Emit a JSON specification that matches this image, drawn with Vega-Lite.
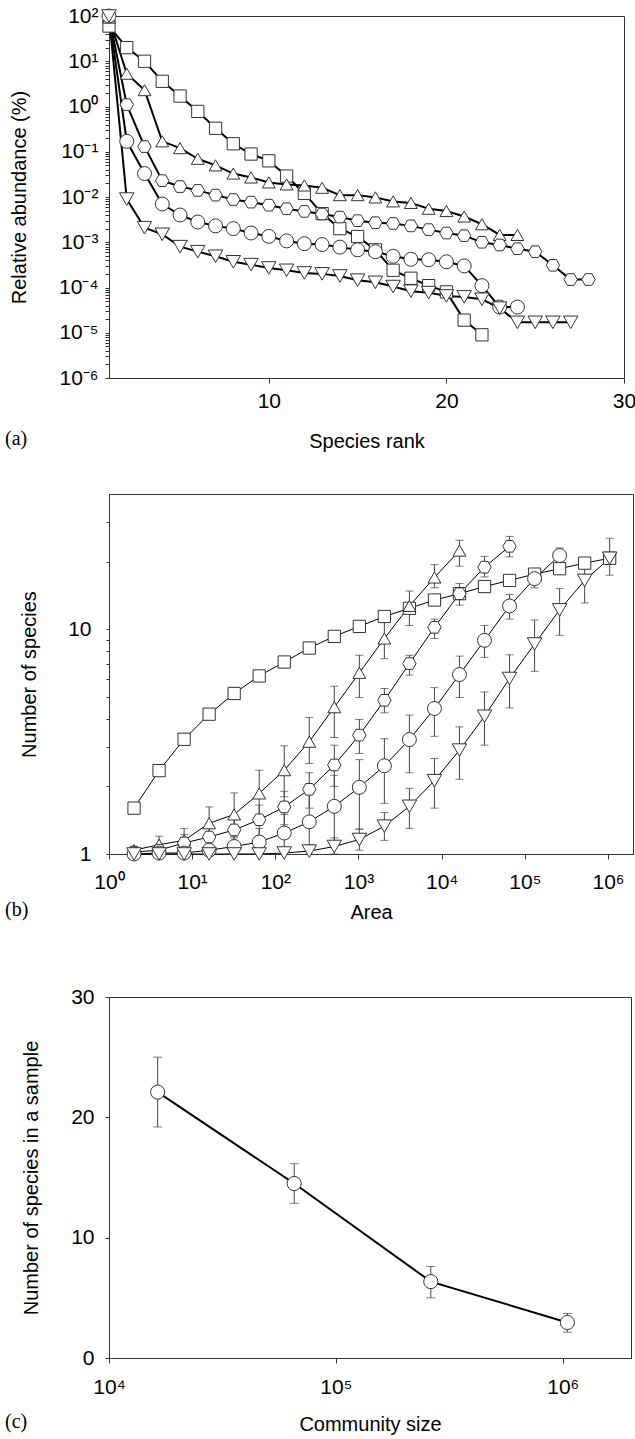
{
  "$schema": "https://vega.github.io/schema/vega-lite/v6.json",
  "padding": {"top": 4, "left": 4, "right": 3, "bottom": 5},
  "background": "white",
  "config": {
    "font": "Liberation Sans",
    "view": {"stroke": "#333", "strokeWidth": 1},
    "axis": {
      "grid": false,
      "labelFont": "Liberation Sans",
      "labelFontSize": 21,
      "labelColor": "#000",
      "titleFont": "Liberation Sans",
      "titleFontSize": 20,
      "titleFontWeight": "normal",
      "titleColor": "#000",
      "domainColor": "#333",
      "tickColor": "#333",
      "labelOverlap": false,
      "labelBound": false,
      "labelFlush": false
    },
    "title": {"font": "Liberation Serif", "fontSize": 20, "fontWeight": "normal", "color": "#000"}
  },
  "spacing": 41,
  "vconcat": [
    {
      "width": 515,
      "height": 362,
      "title": {"text": "(a)", "orient": "bottom", "anchor": "start", "frame": "group", "dx": -104, "offset": -22, "baseline": "top"},
      "data": {"values": [
        {"s":"square","rank":1,"v":60},{"s":"square","rank":2,"v":20},{"s":"square","rank":3,"v":10},{"s":"square","rank":4,"v":3.6},{"s":"square","rank":5,"v":1.7},{"s":"square","rank":6,"v":0.78},{"s":"square","rank":7,"v":0.33},{"s":"square","rank":8,"v":0.15},{"s":"square","rank":9,"v":0.089},{"s":"square","rank":10,"v":0.063},{"s":"square","rank":11,"v":0.029},{"s":"square","rank":12,"v":0.012},{"s":"square","rank":13,"v":0.0043},{"s":"square","rank":14,"v":0.002},{"s":"square","rank":15,"v":0.00134},{"s":"square","rank":16,"v":0.00068},{"s":"square","rank":17,"v":0.00024},{"s":"square","rank":18,"v":0.00016},{"s":"square","rank":19,"v":0.00011},{"s":"square","rank":20,"v":0.00008},{"s":"square","rank":21,"v":0.000019},{"s":"square","rank":22,"v":0.000009},
        {"s":"tri_up","rank":1,"v":92},{"s":"tri_up","rank":2,"v":5.3},{"s":"tri_up","rank":3,"v":2.3},{"s":"tri_up","rank":4,"v":0.17},{"s":"tri_up","rank":5,"v":0.12},{"s":"tri_up","rank":6,"v":0.07},{"s":"tri_up","rank":7,"v":0.05},{"s":"tri_up","rank":8,"v":0.033},{"s":"tri_up","rank":9,"v":0.027},{"s":"tri_up","rank":10,"v":0.021},{"s":"tri_up","rank":11,"v":0.019},{"s":"tri_up","rank":12,"v":0.018},{"s":"tri_up","rank":13,"v":0.016},{"s":"tri_up","rank":14,"v":0.011},{"s":"tri_up","rank":15,"v":0.011},{"s":"tri_up","rank":16,"v":0.0098},{"s":"tri_up","rank":17,"v":0.008},{"s":"tri_up","rank":18,"v":0.0074},{"s":"tri_up","rank":19,"v":0.0055},{"s":"tri_up","rank":20,"v":0.0049},{"s":"tri_up","rank":21,"v":0.0037},{"s":"tri_up","rank":22,"v":0.0025},{"s":"tri_up","rank":23,"v":0.00145},{"s":"tri_up","rank":24,"v":0.00145},
        {"s":"hexagon","rank":1,"v":99},{"s":"hexagon","rank":2,"v":1.1},{"s":"hexagon","rank":3,"v":0.13},{"s":"hexagon","rank":4,"v":0.023},{"s":"hexagon","rank":5,"v":0.017},{"s":"hexagon","rank":6,"v":0.014},{"s":"hexagon","rank":7,"v":0.011},{"s":"hexagon","rank":8,"v":0.0088},{"s":"hexagon","rank":9,"v":0.0077},{"s":"hexagon","rank":10,"v":0.0066},{"s":"hexagon","rank":11,"v":0.0055},{"s":"hexagon","rank":12,"v":0.0048},{"s":"hexagon","rank":13,"v":0.0042},{"s":"hexagon","rank":14,"v":0.0036},{"s":"hexagon","rank":15,"v":0.003},{"s":"hexagon","rank":16,"v":0.0027},{"s":"hexagon","rank":17,"v":0.0026},{"s":"hexagon","rank":18,"v":0.0023},{"s":"hexagon","rank":19,"v":0.0019},{"s":"hexagon","rank":20,"v":0.0016},{"s":"hexagon","rank":21,"v":0.0014},{"s":"hexagon","rank":22,"v":0.001},{"s":"hexagon","rank":23,"v":0.00087},{"s":"hexagon","rank":24,"v":0.00072},{"s":"hexagon","rank":25,"v":0.00062},{"s":"hexagon","rank":26,"v":0.00031},{"s":"hexagon","rank":27,"v":0.00015},{"s":"hexagon","rank":28,"v":0.00015},
        {"s":"circle","rank":1,"v":100},{"s":"circle","rank":2,"v":0.17},{"s":"circle","rank":3,"v":0.033},{"s":"circle","rank":4,"v":0.007},{"s":"circle","rank":5,"v":0.004},{"s":"circle","rank":6,"v":0.0028},{"s":"circle","rank":7,"v":0.0023},{"s":"circle","rank":8,"v":0.002},{"s":"circle","rank":9,"v":0.0016},{"s":"circle","rank":10,"v":0.00135},{"s":"circle","rank":11,"v":0.00107},{"s":"circle","rank":12,"v":0.00093},{"s":"circle","rank":13,"v":0.00089},{"s":"circle","rank":14,"v":0.00078},{"s":"circle","rank":15,"v":0.00068},{"s":"circle","rank":16,"v":0.00062},{"s":"circle","rank":17,"v":0.00049},{"s":"circle","rank":18,"v":0.00042},{"s":"circle","rank":19,"v":0.00041},{"s":"circle","rank":20,"v":0.00037},{"s":"circle","rank":21,"v":0.0003},{"s":"circle","rank":22,"v":0.00011},{"s":"circle","rank":23,"v":0.000037},{"s":"circle","rank":24,"v":0.000037},
        {"s":"tri_down","rank":1,"v":100},{"s":"tri_down","rank":2,"v":0.009},{"s":"tri_down","rank":3,"v":0.0021},{"s":"tri_down","rank":4,"v":0.0015},{"s":"tri_down","rank":5,"v":0.0008},{"s":"tri_down","rank":6,"v":0.00062},{"s":"tri_down","rank":7,"v":0.00049},{"s":"tri_down","rank":8,"v":0.00037},{"s":"tri_down","rank":9,"v":0.00032},{"s":"tri_down","rank":10,"v":0.00027},{"s":"tri_down","rank":11,"v":0.00024},{"s":"tri_down","rank":12,"v":0.00021},{"s":"tri_down","rank":13,"v":0.0002},{"s":"tri_down","rank":14,"v":0.00018},{"s":"tri_down","rank":15,"v":0.000145},{"s":"tri_down","rank":16,"v":0.00013},{"s":"tri_down","rank":17,"v":0.000105},{"s":"tri_down","rank":18,"v":0.000083},{"s":"tri_down","rank":19,"v":0.000077},{"s":"tri_down","rank":20,"v":0.000065},{"s":"tri_down","rank":21,"v":0.000062},{"s":"tri_down","rank":22,"v":0.000055},{"s":"tri_down","rank":23,"v":0.000035},{"s":"tri_down","rank":24,"v":0.000017},{"s":"tri_down","rank":25,"v":0.000017},{"s":"tri_down","rank":26,"v":0.000017},{"s":"tri_down","rank":27,"v":0.000017}
      ]},
      "encoding": {
        "x": {"field": "rank", "type": "quantitative", "scale": {"domain": [1, 30], "nice": false, "zero": false},
              "axis": {"values": [10, 20, 30], "title": "Species rank", "tickSize": 5, "labelPadding": 7, "titleY": 63, "titleBaseline": "middle"}},
        "y": {"field": "v", "type": "quantitative", "scale": {"type": "log", "domain": [0.000001, 100], "nice": false},
              "axis": {"values": [0.000001,0.000002,0.000003,0.000004,0.000005,0.000006,0.000007,0.000008,0.000009,0.00001,0.00002,0.00003,0.00004,0.00005,0.00006,0.00007,0.00008,0.00009,0.0001,0.0002,0.0003,0.0004,0.0005,0.0006,0.0007,0.0008,0.0009,0.001,0.002,0.003,0.004,0.005,0.006,0.007,0.008,0.009,0.01,0.02,0.03,0.04,0.05,0.06,0.07,0.08,0.09,0.1,0.2,0.3,0.4,0.5,0.6,0.7,0.8,0.9,1,2,3,4,5,6,7,8,9,10,20,30,40,50,60,70,80,90,100],
                       "labelExpr": "datum.value == 100 ? '10²' : datum.value == 10 ? '10¹' : datum.value == 1 ? '10⁰' : datum.value == 0.1 ? '10⁻¹' : datum.value == 0.01 ? '10⁻²' : datum.value == 0.001 ? '10⁻³' : datum.value == 0.0001 ? '10⁻⁴' : datum.value == 0.00001 ? '10⁻⁵' : datum.value == 0.000001 ? '10⁻⁶' : ''",
                       "title": "Relative abundance (%)", "tickSize": 4, "labelPadding": 7, "titleX": -90, "titleBaseline": "middle"}}
      },
      "layer": [
        {"mark": {"type": "line", "color": "#000", "strokeWidth": 2}, "encoding": {"detail": {"field": "s"}}},
        {"mark": {"type": "point", "fill": "white", "stroke": "#333", "strokeWidth": 1, "opacity": 1, "fillOpacity": 1},
         "encoding": {
           "shape": {"field": "s", "type": "nominal", "scale": {"domain": ["square","tri_up","hexagon","circle","tri_down"], "range": ["square","triangle-up","M-1,0L-0.5,-0.866L0.5,-0.866L1,0L0.5,0.866L-0.5,0.866Z","circle","triangle-down"]}, "legend": null},
           "size": {"field": "s", "type": "nominal", "scale": {"domain": ["square","tri_up","hexagon","circle","tri_down"], "range": [150, 210, 180, 170, 210]}, "legend": null}
         }}
      ]
    },
    {
      "spacing": 62,
      "vconcat": [
        {
          "width": 524,
          "height": 360,
          "title": {"text": "(b)", "orient": "bottom", "anchor": "start", "frame": "group", "dx": -104, "offset": -22, "baseline": "top"},
          "data": {"values": [
            {"s":"square","area":2,"n":1.6},{"s":"square","area":4,"n":2.35},{"s":"square","area":8,"n":3.24},{"s":"square","area":16,"n":4.19},{"s":"square","area":32,"n":5.18},{"s":"square","area":64,"n":6.2},{"s":"square","area":128,"n":7.15},{"s":"square","area":256,"n":8.25},{"s":"square","area":512,"n":9.3},{"s":"square","area":1024,"n":10.3},{"s":"square","area":2048,"n":11.4},{"s":"square","area":4096,"n":12.4},{"s":"square","area":8192,"n":13.5},{"s":"square","area":16384,"n":14.4},{"s":"square","area":32768,"n":15.5,"lo":15.0,"hi":16.0},{"s":"square","area":65536,"n":16.5,"lo":15.8,"hi":17.2},{"s":"square","area":131072,"n":17.6,"lo":16.8,"hi":18.4},{"s":"square","area":262144,"n":18.6,"lo":17.8,"hi":19.4},{"s":"square","area":524288,"n":19.7,"lo":18.9,"hi":20.5},{"s":"square","area":1048576,"n":20.7,"lo":19.5,"hi":22.0},
            {"s":"tri_up","area":2,"n":1.04,"lo":1.0,"hi":1.08},{"s":"tri_up","area":4,"n":1.1,"lo":1.0,"hi":1.2},{"s":"tri_up","area":8,"n":1.15,"lo":1.02,"hi":1.3},{"s":"tri_up","area":16,"n":1.37,"lo":1.15,"hi":1.62},{"s":"tri_up","area":32,"n":1.5,"lo":1.2,"hi":1.87},{"s":"tri_up","area":64,"n":1.86,"lo":1.45,"hi":2.36},{"s":"tri_up","area":128,"n":2.36,"lo":1.8,"hi":3.03},{"s":"tri_up","area":256,"n":3.16,"lo":2.53,"hi":4.05},{"s":"tri_up","area":512,"n":4.5,"lo":3.3,"hi":5.58},{"s":"tri_up","area":1024,"n":6.4,"lo":4.97,"hi":7.66},{"s":"tri_up","area":2048,"n":9.1,"lo":7.4,"hi":10.8},{"s":"tri_up","area":4096,"n":12.7,"lo":10.4,"hi":14.8},{"s":"tri_up","area":8192,"n":17.0,"lo":15.3,"hi":19.4},{"s":"tri_up","area":16384,"n":22.4,"lo":19.1,"hi":24.9},
            {"s":"hexagon","area":2,"n":1.02,"lo":1.0,"hi":1.05},{"s":"hexagon","area":4,"n":1.04,"lo":1.0,"hi":1.1},{"s":"hexagon","area":8,"n":1.12,"lo":1.02,"hi":1.22},{"s":"hexagon","area":16,"n":1.19,"lo":1.05,"hi":1.33},{"s":"hexagon","area":32,"n":1.28,"lo":1.1,"hi":1.45},{"s":"hexagon","area":64,"n":1.42,"lo":1.2,"hi":1.65},{"s":"hexagon","area":128,"n":1.62,"lo":1.35,"hi":1.9},{"s":"hexagon","area":256,"n":1.94,"lo":1.6,"hi":2.3},{"s":"hexagon","area":512,"n":2.49,"lo":2.0,"hi":3.05},{"s":"hexagon","area":1024,"n":3.38,"lo":2.8,"hi":3.97},{"s":"hexagon","area":2048,"n":4.83,"lo":4.25,"hi":5.45},{"s":"hexagon","area":4096,"n":7.04,"lo":6.25,"hi":7.66},{"s":"hexagon","area":8192,"n":10.2,"lo":9.1,"hi":11.1},{"s":"hexagon","area":16384,"n":14.4,"lo":12.8,"hi":16.0},{"s":"hexagon","area":32768,"n":18.9,"lo":17.1,"hi":21.1},{"s":"hexagon","area":65536,"n":23.4,"lo":21.0,"hi":25.9},
            {"s":"circle","area":2,"n":1.0},{"s":"circle","area":4,"n":1.01},{"s":"circle","area":8,"n":1.01},{"s":"circle","area":16,"n":1.04,"lo":1.0,"hi":1.1},{"s":"circle","area":32,"n":1.08,"lo":1.0,"hi":1.18},{"s":"circle","area":64,"n":1.13,"lo":1.0,"hi":1.3},{"s":"circle","area":128,"n":1.24,"lo":1.05,"hi":1.5},{"s":"circle","area":256,"n":1.39,"lo":1.1,"hi":1.85},{"s":"circle","area":512,"n":1.63,"lo":1.12,"hi":2.24},{"s":"circle","area":1024,"n":1.98,"lo":1.29,"hi":2.63},{"s":"circle","area":2048,"n":2.47,"lo":1.68,"hi":3.26},{"s":"circle","area":4096,"n":3.23,"lo":2.3,"hi":4.15},{"s":"circle","area":8192,"n":4.44,"lo":3.34,"hi":5.5},{"s":"circle","area":16384,"n":6.29,"lo":4.97,"hi":7.6},{"s":"circle","area":32768,"n":8.93,"lo":7.5,"hi":10.4},{"s":"circle","area":65536,"n":12.7,"lo":11.1,"hi":14.3},{"s":"circle","area":131072,"n":16.8,"lo":15.3,"hi":18.3},{"s":"circle","area":262144,"n":21.3,"lo":19.5,"hi":23.0},
            {"s":"tri_down","area":2,"n":1.0},{"s":"tri_down","area":4,"n":1.0},{"s":"tri_down","area":8,"n":1.0},{"s":"tri_down","area":16,"n":1.0},{"s":"tri_down","area":32,"n":1.0},{"s":"tri_down","area":64,"n":1.0},{"s":"tri_down","area":128,"n":1.01},{"s":"tri_down","area":256,"n":1.03,"lo":1.0,"hi":1.08},{"s":"tri_down","area":512,"n":1.08,"lo":1.0,"hi":1.18},{"s":"tri_down","area":1024,"n":1.16,"lo":1.04,"hi":1.29},{"s":"tri_down","area":2048,"n":1.33,"lo":1.15,"hi":1.53},{"s":"tri_down","area":4096,"n":1.63,"lo":1.3,"hi":1.96},{"s":"tri_down","area":8192,"n":2.12,"lo":1.6,"hi":2.66},{"s":"tri_down","area":16384,"n":2.9,"lo":2.15,"hi":3.68},{"s":"tri_down","area":32768,"n":4.1,"lo":3.05,"hi":5.26},{"s":"tri_down","area":65536,"n":6.04,"lo":4.47,"hi":7.7},{"s":"tri_down","area":131072,"n":8.6,"lo":6.5,"hi":11.0},{"s":"tri_down","area":262144,"n":12.2,"lo":9.4,"hi":15.2},{"s":"tri_down","area":524288,"n":16.5,"lo":13.1,"hi":19.5},{"s":"tri_down","area":1048576,"n":20.7,"lo":17.4,"hi":25.4}
          ]},
          "layer": [
            {"transform": [{"filter": "isValid(datum.lo)"}],
             "mark": {"type": "errorbar", "ticks": true, "size": 8, "thickness": 1, "color": "#444"},
             "encoding": {
               "x": {"field": "area", "type": "quantitative", "scale": {"type": "log", "domain": [1, 2000000], "nice": false}, "title": "Area"},
               "y": {"field": "lo", "type": "quantitative", "scale": {"type": "log", "domain": [1, 40], "nice": false}, "title": "Number of species"},
               "y2": {"field": "hi"}
             }},
            {"mark": {"type": "line", "color": "#000", "strokeWidth": 1},
             "encoding": {
               "x": {"field": "area", "type": "quantitative", "scale": {"type": "log", "domain": [1, 2000000], "nice": false},
                     "axis": {"values": [1, 10, 100, 1000, 10000, 100000, 1000000], "labelExpr": "datum.value == 1 ? '10⁰' : datum.value == 10 ? '10¹' : datum.value == 100 ? '10²' : datum.value == 1000 ? '10³' : datum.value == 10000 ? '10⁴' : datum.value == 100000 ? '10⁵' : datum.value == 1000000 ? '10⁶' : ''", "title": "Area", "tickSize": 5, "labelPadding": 12, "titleY": 58, "titleBaseline": "middle"}},
               "y": {"field": "n", "type": "quantitative", "scale": {"type": "log", "domain": [1, 40], "nice": false},
                     "axis": {"values": [1,2,3,4,5,6,7,8,9,10,20,30], "labelExpr": "datum.value == 1 ? '1' : datum.value == 10 ? '10' : ''", "title": "Number of species", "tickSize": 3, "labelPadding": 15, "titleX": -80, "titleBaseline": "middle"}},
               "detail": {"field": "s"}
             }},
            {"mark": {"type": "point", "fill": "white", "stroke": "#333", "strokeWidth": 1, "opacity": 1, "fillOpacity": 1},
             "encoding": {
               "x": {"field": "area", "type": "quantitative", "scale": {"type": "log", "domain": [1, 2000000], "nice": false}, "title": "Area"},
               "y": {"field": "n", "type": "quantitative", "scale": {"type": "log", "domain": [1, 40], "nice": false}, "title": "Number of species"},
               "shape": {"field": "s", "type": "nominal", "scale": {"domain": ["square","tri_up","hexagon","circle","tri_down"], "range": ["square","triangle-up","M-1,0L-0.5,-0.866L0.5,-0.866L1,0L0.5,0.866L-0.5,0.866Z","circle","triangle-down"]}, "legend": null},
               "size": {"field": "s", "type": "nominal", "scale": {"domain": ["square","tri_up","hexagon","circle","tri_down"], "range": [170, 250, 210, 230, 250]}, "legend": null}
             }}
          ]
        },
        {
          "width": 522,
          "height": 361,
          "title": {"text": "(c)", "orient": "bottom", "anchor": "start", "frame": "group", "dx": -104, "offset": -22, "baseline": "top"},
          "data": {"values": [
            {"community": 16384, "n": 22.1, "lo": 19.2, "hi": 25.0},
            {"community": 65536, "n": 14.5, "lo": 12.85, "hi": 16.15},
            {"community": 262144, "n": 6.35, "lo": 5.0, "hi": 7.6},
            {"community": 1048576, "n": 2.95, "lo": 2.15, "hi": 3.7}
          ]},
          "layer": [
            {"mark": {"type": "errorbar", "ticks": true, "size": 9, "thickness": 1, "color": "#444"},
             "encoding": {
               "x": {"field": "community", "type": "quantitative", "scale": {"type": "log", "domain": [10000, 2000000], "nice": false}, "title": "Community size"},
               "y": {"field": "lo", "type": "quantitative", "scale": {"domain": [0, 30], "nice": false}, "title": "Number of species in a sample"},
               "y2": {"field": "hi"}
             }},
            {"mark": {"type": "line", "color": "#000", "strokeWidth": 2},
             "encoding": {
               "x": {"field": "community", "type": "quantitative", "scale": {"type": "log", "domain": [10000, 2000000], "nice": false},
                     "axis": {"values": [10000, 100000, 1000000], "labelExpr": "datum.value == 10000 ? '10⁴' : datum.value == 100000 ? '10⁵' : datum.value == 1000000 ? '10⁶' : ''", "title": "Community size", "tickSize": 5, "labelPadding": 13, "titleY": 66, "titleBaseline": "middle"}},
               "y": {"field": "n", "type": "quantitative", "scale": {"domain": [0, 30], "nice": false},
                     "axis": {"values": [0, 10, 20, 30], "title": "Number of species in a sample", "tickSize": 4, "labelPadding": 11, "titleX": -78, "titleBaseline": "middle"}}
             }},
            {"mark": {"type": "point", "shape": "circle", "size": 200, "fill": "white", "stroke": "#333", "strokeWidth": 1, "opacity": 1, "fillOpacity": 1},
             "encoding": {
               "x": {"field": "community", "type": "quantitative", "scale": {"type": "log", "domain": [10000, 2000000], "nice": false}, "title": "Community size"},
               "y": {"field": "n", "type": "quantitative", "scale": {"domain": [0, 30], "nice": false}, "title": "Number of species in a sample"}
             }}
          ]
        }
      ]
    }
  ]
}
